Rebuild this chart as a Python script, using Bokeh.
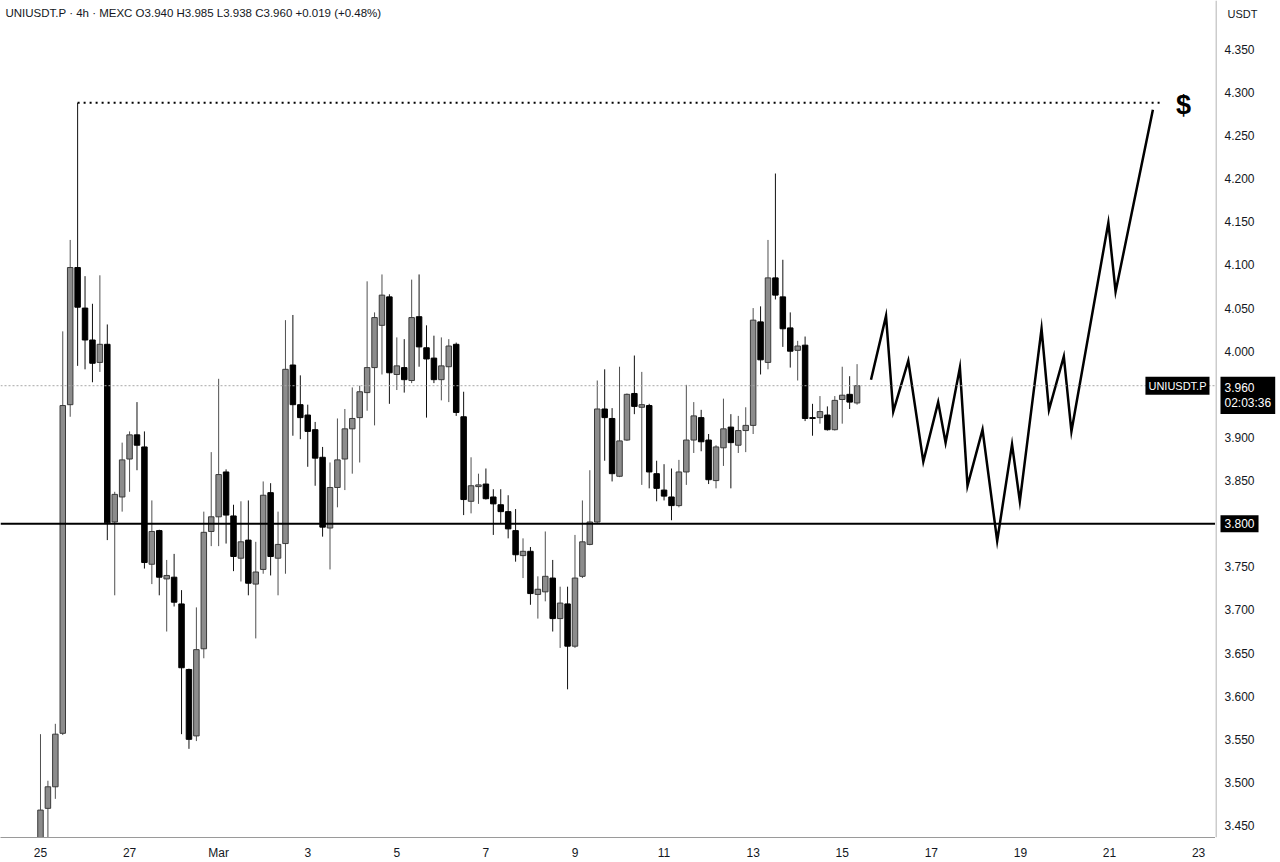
import pandas as pd
from bokeh.plotting import figure
from bokeh.layouts import row
from bokeh.models import ColumnDataSource, Range1d, FixedTicker, Span, Label
from bokeh.core.properties import value
from bokeh.embed import file_html
from bokeh.resources import INLINE

# ---------------- data ----------------
first_bar = "2025-02-25 00:00"
opens = [3.415, 3.470, 3.495, 3.557, 3.938, 4.097, 4.050, 4.013, 3.987, 4.008,
         3.802, 3.831, 3.875, 3.903, 3.889, 3.753, 3.792, 3.736, 3.738, 3.707,
         3.631, 3.554, 3.655, 3.791, 3.808, 3.860, 3.809, 3.760, 3.781, 3.730,
         3.747, 3.836, 3.760, 3.777, 3.984, 3.938, 3.926, 3.909, 3.877, 3.795,
         3.842, 3.875, 3.910, 3.923, 3.952, 3.981, 4.030, 4.063, 3.973, 3.981,
         3.966, 4.040, 4.004, 3.992, 3.967, 3.982, 4.008, 3.924, 3.826, 3.843,
         3.846, 3.831, 3.822, 3.814, 3.792, 3.763, 3.768, 3.718, 3.721, 3.737,
         3.690, 3.707, 3.658, 3.739, 3.776, 3.802, 3.933, 3.922, 3.855, 3.897,
         3.951, 3.935, 3.937, 3.858, 3.839, 3.831, 3.821, 3.860, 3.897, 3.923,
         3.897, 3.850, 3.888, 3.912, 3.891, 3.908, 3.914, 4.034, 3.987, 4.085,
         4.063, 4.027, 4.001, 4.007, 3.923, 3.923, 3.926, 3.909, 3.944, 3.950,
         3.940]
highs = [3.556, 3.502, 3.568, 4.023, 4.129, 4.288, 4.087, 4.055, 4.088, 4.031,
         3.837, 3.894, 3.907, 3.941, 3.907, 3.827, 3.793, 3.758, 3.765, 3.723,
         3.632, 3.703, 3.814, 3.883, 3.968, 3.863, 3.822, 3.826, 3.827, 3.779,
         3.849, 3.847, 3.814, 4.036, 4.042, 3.972, 3.938, 3.918, 3.889, 3.871,
         3.922, 3.933, 3.958, 3.960, 4.081, 4.045, 4.089, 4.066, 4.016, 4.014,
         4.083, 4.089, 4.030, 4.018, 4.016, 4.014, 4.010, 3.953, 3.877, 3.858,
         3.864, 3.840, 3.840, 3.833, 3.817, 3.783, 3.773, 3.739, 3.791, 3.758,
         3.727, 3.727, 3.787, 3.827, 3.862, 3.966, 3.979, 3.934, 3.982, 3.951,
         3.995, 3.976, 3.939, 3.873, 3.869, 3.864, 3.874, 3.961, 3.941, 3.932,
         3.904, 3.891, 3.945, 3.927, 3.925, 3.935, 4.050, 4.052, 4.129, 4.206,
         4.106, 4.045, 4.012, 4.017, 3.939, 3.948, 3.936, 3.948, 3.982, 3.971,
         3.985]
lows = [3.400, 3.436, 3.481, 3.555, 3.924, 3.983, 3.979, 3.964, 3.976, 3.781,
        3.717, 3.814, 3.837, 3.862, 3.748, 3.730, 3.717, 3.675, 3.704, 3.556,
        3.539, 3.548, 3.644, 3.774, 3.774, 3.777, 3.745, 3.733, 3.717, 3.667,
        3.742, 3.740, 3.717, 3.742, 3.902, 3.898, 3.866, 3.844, 3.785, 3.747,
        3.819, 3.839, 3.858, 3.871, 3.931, 3.914, 3.973, 3.939, 3.955, 3.952,
        3.963, 3.982, 3.923, 3.963, 3.943, 3.941, 3.925, 3.810, 3.812, 3.823,
        3.828, 3.787, 3.800, 3.783, 3.756, 3.737, 3.706, 3.690, 3.710, 3.675,
        3.656, 3.608, 3.656, 3.737, 3.775, 3.801, 3.873, 3.849, 3.854, 3.896,
        3.927, 3.845, 3.841, 3.826, 3.827, 3.804, 3.819, 3.845, 3.882, 3.884,
        3.846, 3.841, 3.867, 3.841, 3.882, 3.883, 3.904, 3.973, 3.979, 4.060,
        4.005, 3.981, 3.966, 3.919, 3.902, 3.916, 3.908, 3.908, 3.916, 3.933,
        3.938]
closes = [3.468, 3.495, 3.556, 3.937, 4.097, 4.051, 4.013, 3.986, 4.008, 3.801,
          3.834, 3.874, 3.903, 3.891, 3.755, 3.791, 3.738, 3.740, 3.709, 3.633,
          3.550, 3.654, 3.790, 3.808, 3.857, 3.810, 3.762, 3.779, 3.731, 3.744,
          3.833, 3.762, 3.776, 3.979, 3.938, 3.923, 3.907, 3.876, 3.796, 3.842,
          3.874, 3.910, 3.922, 3.953, 3.981, 4.039, 4.065, 3.975, 3.983, 3.967,
          4.039, 4.005, 3.991, 3.967, 3.983, 4.006, 3.929, 3.828, 3.844, 3.845,
          3.829, 3.823, 3.814, 3.794, 3.764, 3.768, 3.719, 3.724, 3.739, 3.690,
          3.708, 3.658, 3.737, 3.779, 3.802, 3.933, 3.923, 3.858, 3.896, 3.950,
          3.936, 3.938, 3.860, 3.841, 3.832, 3.821, 3.860, 3.897, 3.925, 3.895,
          3.851, 3.889, 3.910, 3.894, 3.908, 3.914, 4.036, 3.990, 4.085, 4.065,
          4.026, 4.000, 4.006, 3.922, 3.922, 3.930, 3.909, 3.943, 3.949, 3.941,
          3.960]

proj_times = ["2025-03-15 15:30", "2025-03-15 23:36", "2025-03-16 03:30", "2025-03-16 11:36",
              "2025-03-16 19:42", "2025-03-17 03:42", "2025-03-17 07:42", "2025-03-17 15:24",
              "2025-03-17 19:30", "2025-03-18 03:36", "2025-03-18 11:30", "2025-03-18 19:30",
              "2025-03-18 23:42", "2025-03-19 11:24", "2025-03-19 15:24", "2025-03-19 23:24",
              "2025-03-20 03:30", "2025-03-20 23:24", "2025-03-21 03:18", "2025-03-21 23:24"]
proj_prices = [3.967, 4.041, 3.930, 3.989, 3.872, 3.941, 3.894, 3.981, 3.844, 3.909,
               3.780, 3.892, 3.826, 4.026, 3.932, 3.994, 3.907, 4.149, 4.069, 4.280]

target_price = 4.288
target_start = "2025-02-25 20:00"
target_end = "2025-03-22 03:00"
support_price = 3.800
last_price = 3.960
countdown = "02:03:36"
symbol = "UNIUSDT.P"
header = "UNIUSDT.P · 4h · MEXC  O3.940  H3.985  L3.938  C3.960  +0.019 (+0.48%)"
currency = "USDT"

tick_dates = ["2025-02-25", "2025-02-27", "2025-03-01", "2025-03-03", "2025-03-05",
              "2025-03-07", "2025-03-09", "2025-03-11", "2025-03-13", "2025-03-15",
              "2025-03-17", "2025-03-19", "2025-03-21", "2025-03-23"]
tick_labels = ["25", "27", "Mar", "3", "5", "7", "9", "11", "13", "15", "17", "19", "21", "23"]
price_ticks = [3.45, 3.50, 3.55, 3.60, 3.65, 3.70, 3.75, 3.85, 3.90, 4.00,
               4.05, 4.10, 4.15, 4.20, 4.25, 4.30, 4.35]

# ---------------- build ----------------
FONT = "Liberation Sans"
TXT = "#131722"
AXIS = "#9a9a9a"

X0 = pd.Timestamp("2025-02-24 02:27")
X1 = pd.Timestamp("2025-03-23 09:08")
Y0, Y1 = 3.4362, 4.4066          # chart frame (0..840 px)

times = pd.date_range(first_bar, periods=len(opens), freq="4h")
up = [c >= o for o, c in zip(opens, closes)]
src = ColumnDataSource(dict(
    t=times, o=opens, h=highs, l=lows, c=closes,
    top=[max(o, c) for o, c in zip(opens, closes)],
    bot=[min(o, c) for o, c in zip(opens, closes)],
    fill=["#8c8c8c" if u else "#000000" for u in up],
    edge=["#3a3a3a" if u else "#000000" for u in up],
    wick=["#505050" if u else "#111111" for u in up],
))

price_range = Range1d(Y0, Y1)

p = figure(width=1215, height=862, x_axis_type="datetime", y_axis_location=None,
           output_backend="svg", toolbar_location=None,
           x_range=Range1d(X0, X1), y_range=price_range,
           min_border_left=0, min_border_top=0, min_border_right=0, min_border_bottom=22)
p.outline_line_color = None
p.background_fill_color = "white"
p.border_fill_color = "white"
for g in p.grid:
    g.visible = False

bar_w = 4 * 3600 * 1000 * 0.74
p.segment(x0="t", y0="l", x1="t", y1="h", source=src, line_color="wick", line_width=1)
p.vbar(x="t", top="top", bottom="bot", width=bar_w, source=src,
       fill_color="fill", line_color="edge", line_width=1)

# current price dotted line and support line
p.add_layout(Span(location=last_price, dimension="width", line_color="#a8a8a8",
                  line_dash="2 2", line_width=1))
p.add_layout(Span(location=support_price, dimension="width", line_color="#000000",
                  line_width=2))

# target dotted line
p.line([pd.Timestamp(target_start), pd.Timestamp(target_end)], [target_price, target_price],
       line_color="#000000", line_width=2, line_dash="2 4")

# projection zigzag
p.line([pd.Timestamp(t) for t in proj_times], proj_prices, line_color="#000000",
       line_width=2.5, line_join="miter")

# x axis
xa = p.xaxis[0]
ms = [int(pd.Timestamp(d).value // 10**6) for d in tick_dates]
xa.ticker = FixedTicker(ticks=ms)
ov = {}
for m, lab in zip(ms, tick_labels):
    ov[m] = lab
    ov[str(m)] = lab
xa.major_label_overrides = ov
xa.major_tick_in = 0
xa.major_tick_out = 0
xa.minor_tick_in = 0
xa.minor_tick_out = 0
xa.major_label_standoff = 8
xa.axis_line_color = AXIS
xa.major_label_text_font = FONT
xa.major_label_text_font_size = "12px"
xa.major_label_text_color = TXT

# texts in the chart area
p.add_layout(Label(x=pd.Timestamp("2025-02-24 05:08"), y=4.3916, text=header,
                   text_font=FONT, text_font_size="11.5px", text_color=TXT,
                   text_baseline="middle", text_align="left"))
p.add_layout(Label(x=pd.Timestamp("2025-03-22 15:53"), y=4.286, text="$",
                   text_font=FONT, text_font_size="27px", text_font_style="bold",
                   text_color="#000000", text_baseline="middle", text_align="center"))
p.add_layout(Label(x=pd.Timestamp("2025-03-23 05:54"), y=last_price, text=symbol,
                   text_font=FONT, text_font_size="11px", text_color="white",
                   text_baseline="middle", text_align="right",
                   background_fill_color="#000000", padding=3))

# ---------------- price scale panel (shares the same price range) ----------------
q = figure(width=65, height=862, x_axis_location=None, y_axis_location=None,
           output_backend="svg", toolbar_location=None,
           x_range=Range1d(0, 65), y_range=price_range,
           min_border_left=0, min_border_top=0, min_border_right=0, min_border_bottom=22)
q.outline_line_color = None
q.background_fill_color = "white"
q.border_fill_color = "white"
for g in q.grid:
    g.visible = False

q.add_layout(Span(location=0.5, dimension="height", line_color=AXIS, line_width=1))
q.text(x=[9] * len(price_ticks), y=price_ticks, text=[f"{v:.3f}" for v in price_ticks],
       text_font=value(FONT), text_font_size=value("12px"), text_color=TXT,
       text_align="left", text_baseline="middle")

q.add_layout(Label(x=27, y=4.3904, text=currency, text_font=FONT, text_font_size="11px",
                   text_color=TXT, text_baseline="middle", text_align="center"))
q.add_layout(Label(x=5, y=3.9705, text=f"{last_price:.3f}\n{countdown}",
                   text_font=FONT, text_font_size="12px", text_color="white",
                   text_line_height=1.1,
                   text_baseline="top", text_align="left",
                   background_fill_color="#000000", padding=4))
q.add_layout(Label(x=5, y=support_price, text=f"{support_price:.3f}",
                   text_font=FONT, text_font_size="12px", text_color="white",
                   text_baseline="middle", text_align="left",
                   background_fill_color="#000000", padding=4))

layout = row(p, q)
open("out.html", "w").write(file_html(layout, INLINE))
